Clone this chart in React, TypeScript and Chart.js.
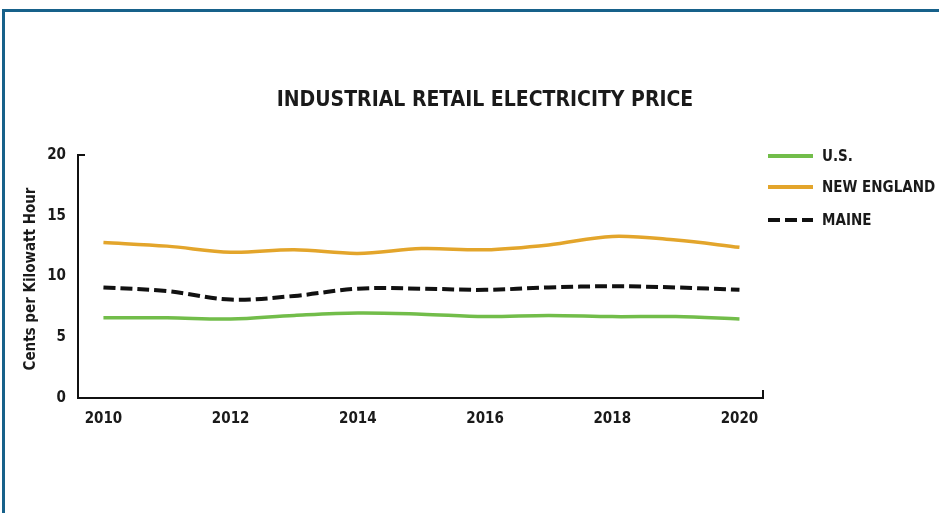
import React, { useEffect, useRef } from "react";
import { Chart, registerables } from "chart.js";

Chart.register(...registerables);

const years = [2010, 2011, 2012, 2013, 2014, 2015, 2016, 2017, 2018, 2019, 2020];
const usPrice = [6.6, 6.6, 6.5, 6.8, 7.0, 6.9, 6.7, 6.8, 6.7, 6.7, 6.5];
const newEnglandPrice = [12.8, 12.5, 12.0, 12.2, 11.9, 12.3, 12.2, 12.6, 13.3, 13.0, 12.4];
const mainePrice = [9.1, 8.8, 8.1, 8.4, 9.0, 9.0, 8.9, 9.1, 9.2, 9.1, 8.9];
const xTickYears = [2010, 2012, 2014, 2016, 2018, 2020];
const seriesNames = ["U.S.", "NEW ENGLAND", "MAINE"];
const chartTitle = "INDUSTRIAL RETAIL ELECTRICITY PRICE";
const yAxisTitle = "Cents per Kilowatt Hour";

const FONT = '"Liberation Sans Narrow", "DejaVu Sans Condensed", "Arial Narrow", sans-serif';
const GREEN = "#72bd4a";
const ORANGE = "#e3a52b";
const BLACK = "#111111";

const overlayPlugin = {
  id: "overlay",
  afterDraw(chart: any) {
    const ctx = chart.ctx;
    const area = chart.chartArea;
    ctx.save();
    // axis end caps
    ctx.strokeStyle = BLACK;
    ctx.lineWidth = 2;
    ctx.beginPath();
    ctx.moveTo(area.left - 1, area.top);
    ctx.lineTo(area.left + 7, area.top);
    ctx.moveTo(area.right, area.bottom);
    ctx.lineTo(area.right, area.bottom - 8);
    ctx.stroke();

    // title
    ctx.fillStyle = "#1a1a1a";
    ctx.font = `bold 21px ${FONT}`;
    ctx.textAlign = "center";
    ctx.textBaseline = "middle";
    ctx.fillText(chartTitle, 485, 101);

    // y axis title
    ctx.save();
    ctx.translate(31, 279);
    ctx.rotate(-Math.PI / 2);
    ctx.font = `bold 15px ${FONT}`;
    ctx.fillText(yAxisTitle, 0, 0);
    ctx.restore();

    // legend
    const ys = [156, 187, 220];
    chart.data.datasets.forEach((ds: any, i: number) => {
      ctx.beginPath();
      ctx.strokeStyle = ds.borderColor;
      ctx.lineWidth = 4;
      ctx.lineCap = "butt";
      ctx.setLineDash(ds.borderDash || []);
      ctx.moveTo(768, ys[i]);
      ctx.lineTo(813, ys[i]);
      ctx.stroke();
      ctx.setLineDash([]);
      ctx.fillStyle = "#1a1a1a";
      ctx.font = `bold 15px ${FONT}`;
      ctx.textAlign = "left";
      ctx.textBaseline = "middle";
      ctx.fillText(ds.label, 822, ys[i] + 1);
    });
    ctx.restore();
  },
};

export default function App() {
  const ref = useRef<HTMLCanvasElement | null>(null);
  useEffect(() => {
    document.body.style.margin = "0";
    const canvas = ref.current!;
    const toPts = (vals: number[]) => years.map((y, i) => ({ x: y, y: vals[i] }));
    const chart = new Chart(canvas, {
      type: "line",
      data: {
        datasets: [
          { label: seriesNames[0], data: toPts(usPrice), borderColor: GREEN, borderWidth: 3.5, pointRadius: 0, tension: 0.35, fill: false },
          { label: seriesNames[1], data: toPts(newEnglandPrice), borderColor: ORANGE, borderWidth: 3.5, pointRadius: 0, tension: 0.35, fill: false },
          { label: seriesNames[2], data: toPts(mainePrice), borderColor: BLACK, borderWidth: 4, borderDash: [12, 5], pointRadius: 0, tension: 0.35, fill: false },
        ],
      },
      options: {
        animation: false,
        responsive: false,
        maintainAspectRatio: false,
        layout: { padding: { left: 0, top: 155, right: 176, bottom: 75 } },
        plugins: { legend: { display: false }, title: { display: false }, tooltip: { enabled: false } },
        scales: {
          x: {
            type: "linear",
            min: 2009.6,
            max: 2020.37,
            afterBuildTicks: (s: any) => {
              s.ticks = xTickYears.map((v) => ({ value: v }));
            },
            afterFit: (s: any) => {
              s.height = 40;
            },
            grid: { display: false, drawTicks: false },
            border: { display: true, color: BLACK, width: 2 },
            ticks: {
              callback: (v: any) => String(v),
              color: "#1a1a1a",
              font: { family: FONT, size: 15, weight: "bold" },
              padding: 12,
              maxRotation: 0,
              autoSkip: false,
            },
          },
          y: {
            min: 0,
            max: 20,
            afterFit: (s: any) => {
              s.width = 78;
            },
            grid: { display: false, drawTicks: false },
            border: { display: true, color: BLACK, width: 2 },
            ticks: {
              stepSize: 5,
              color: "#1a1a1a",
              font: { family: FONT, size: 15, weight: "bold" },
              padding: 12,
            },
          },
        },
      },
      plugins: [overlayPlugin],
    });
    return () => chart.destroy();
  }, []);
  return (
    <div style={{ position: "relative", width: 939, height: 513, background: "#fff", overflow: "hidden" }}>
      <div
        style={{
          position: "absolute",
          left: 2,
          top: 9,
          right: -10,
          bottom: -10,
          borderTop: "3px solid #17618a",
          borderLeft: "3px solid #17618a",
        }}
      />
      <canvas ref={ref} width={939} height={513} style={{ position: "absolute", left: 0, top: 0, width: 939, height: 513 }} />
    </div>
  );
}
